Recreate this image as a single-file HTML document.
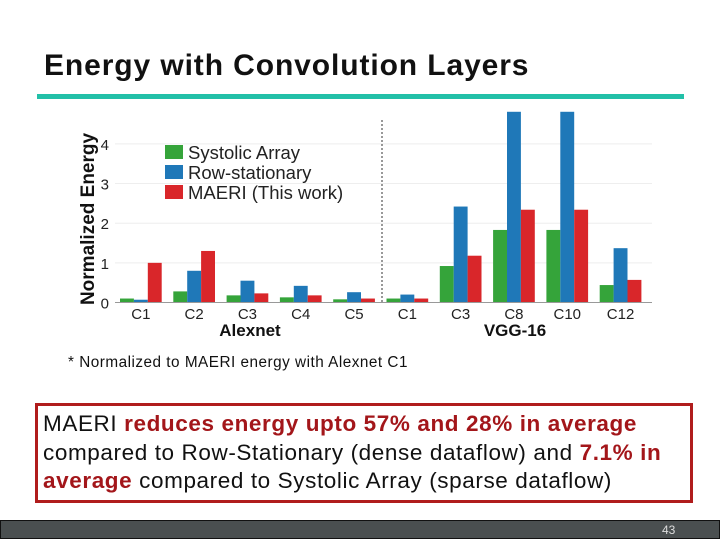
<!DOCTYPE html>
<html><head><meta charset="utf-8"><style>
body{margin:0;width:720px;height:540px;overflow:hidden;background:#fff;font-family:"Liberation Sans",Arial,sans-serif;position:relative}
.abs{position:absolute}
</style></head><body>
<div class="abs" style="left:44px;top:49px;font-size:30px;letter-spacing:0.9px;font-weight:bold;color:#111;white-space:nowrap">Energy with Convolution Layers</div>
<div class="abs" style="left:37px;top:94px;width:647px;height:5px;background:#22c0a8"></div>
<svg class="abs" style="left:0;top:100px" width="720" height="245">
<g id="g"></g>
</svg>
<div class="abs" style="left:68px;top:354px;font-size:15.3px;letter-spacing:0.5px;color:#111;white-space:nowrap">* Normalized to MAERI energy with Alexnet C1</div>
<div class="abs" style="left:35px;top:403px;width:647px;height:90px;border:3px solid #b01c1c;font-size:22.5px;letter-spacing:0.6px;line-height:28.5px;padding:4px 0 0 5px;color:#111;white-space:nowrap">MAERI <b style="color:#a3161a">reduces energy upto 57% and 28% in average</b><br>compared to Row-Stationary (dense dataflow) and <b style="color:#a3161a">7.1% in</b><br><b style="color:#a3161a">average</b> compared to Systolic Array (sparse dataflow)</div>
<div class="abs" style="left:0;top:520px;width:718px;height:17px;background:#4a4f50;border:1px solid #111"></div>
<div class="abs" style="left:662px;top:523px;font-size:12px;color:#ddd">43</div>
<script>
const categories=["C1","C2","C3","C4","C5","C1","C3","C8","C10","C12"];
const systolic=[0.1,0.28,0.18,0.13,0.08,0.1,0.92,1.83,1.83,0.44];
const rowStat=[0.07,0.8,0.55,0.42,0.26,0.2,2.42,4.81,4.81,1.37];
const maeri=[1.0,1.3,0.23,0.18,0.1,0.1,1.18,2.34,2.34,0.57];
const yTicks=[0,1,2,3,4];
const NS="http://www.w3.org/2000/svg";
const g=document.getElementById('g');
const base=202.5, unit=39.65;
const y=v=>base-v*unit;
const gx=i=>120+i*53.3;
const bw=13.9;
function mk(t,a){const e=document.createElementNS(NS,t);for(const k in a)e.setAttribute(k,a[k]);g.appendChild(e);return e;}
yTicks.forEach(t=>{
 if(t>0){const l=mk('line',{x1:115,x2:652,y1:y(t),y2:y(t),stroke:'#eee','stroke-width':1});}
 const tx=mk('text',{x:109,y:y(t)+6,'text-anchor':'end','font-size':15,fill:'#222'});tx.textContent=t;
 
});
const series=[[systolic,'#35a43a'],[rowStat,'#1f78b8'],[maeri,'#d9262a']];
categories.forEach((c,i)=>{
 series.forEach((s,j)=>{const v=s[0][i];const r=mk('rect',{x:gx(i)+j*bw,y:y(v),width:bw,height:v*unit,fill:s[1]});
 });
 const t=mk('text',{x:gx(i)+1.5*bw,y:219,'text-anchor':'middle','font-size':15,fill:'#222'});t.textContent=c;
 
});
const ax=mk('line',{x1:115,x2:652,y1:base,y2:base,stroke:'#999','stroke-width':1});

const dl=mk('line',{x1:382,x2:382,y1:20,y2:base,stroke:'#333','stroke-width':1,'stroke-dasharray':'2,2'});

const at=mk('text',{transform:'translate(94,119) rotate(-90)','text-anchor':'middle','font-size':19,'font-weight':'bold',fill:'#111'});at.textContent='Normalized Energy';

[['Alexnet',250],['VGG-16',515]].forEach(([n,x])=>{const t=mk('text',{x:x,y:236,'text-anchor':'middle','font-size':17,'font-weight':'bold',fill:'#111'});t.textContent=n;
});
[['Systolic Array','#35a43a'],['Row-stationary','#1f78b8'],['MAERI (This work)','#d9262a']].forEach(([n,c],i)=>{
 const r=mk('rect',{x:165,y:45+i*20,width:18,height:14,fill:c});
 const t=mk('text',{x:188,y:59+i*20,'font-size':18.5,fill:'#222'});t.textContent=n;
});
</script>
</body></html>
